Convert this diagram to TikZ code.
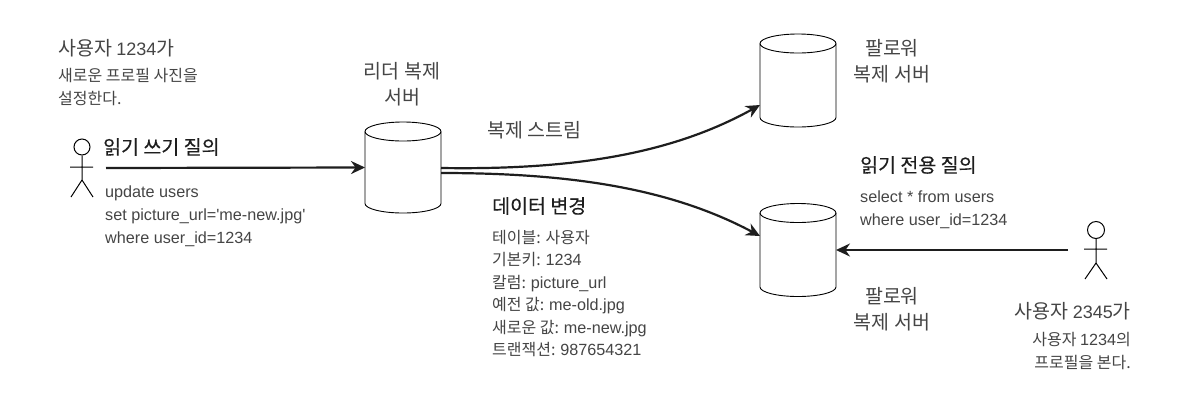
\documentclass[tikz,border=0pt]{standalone}
\usepackage{fontspec}
\setmainfont{Noto Sans CJK KR}
\newfontfamily\latf{Liberation Sans}
\newfontfamily\headf[FakeBold=0.35]{Noto Sans CJK KR}
\usetikzlibrary{arrows.meta}
\definecolor{ink}{HTML}{1E1E1E}
\definecolor{soft}{HTML}{454545}
\newcommand{\ltbig}[1]{{\latf\fontsize{18}{19}\selectfont #1}}
\newcommand{\ltsm}[1]{{\latf\fontsize{16.2}{22}\selectfont #1}}
\tikzset{
  x=1pt,y=-1pt,
  dbox/.style={rectangle,draw=none,minimum width=76pt,minimum height=74pt,inner sep=0pt,outer sep=0pt},
  dbline/.style={draw=black,line width=0.9pt},
  big/.style={font=\fontsize{19.5}{26}\selectfont,text=soft,inner sep=0pt,align=center},
  headl/.style={font=\headf\fontsize{19.5}{24}\selectfont,text=ink,inner sep=0pt,anchor=west},
  small/.style={font=\fontsize{16}{22.8}\selectfont,text=soft,inner sep=0pt,align=left,anchor=north west},
  flow/.style={line width=2.2pt,draw=ink,-{Stealth[length=14pt,width=13pt]}},
  stick/.style={line width=1pt,draw=black},
}
\newcommand{\dbshape}[1]{%
  \draw[dbline] (#1.north west) arc[start angle=180,end angle=-180,x radius=38pt,y radius=9.5pt];
  \draw[dbline] (#1.north west) -- (#1.south west) arc[start angle=180,end angle=360,x radius=38pt,y radius=9.5pt] -- (#1.north east);
}
\begin{document}
\begin{tikzpicture}
\useasboundingbox (0,0) rectangle (1202,400);
\fill[white] (0,0) rectangle (1202,400);
\node[dbox,minimum height=72pt] (leader) at (403,167.5) {};
\node[dbox] (fa) at (798,80.5) {};
\node[dbox] (fb) at (798,250) {};
\dbshape{leader}\dbshape{fa}\dbshape{fb}
% left person
\node[circle,draw=black,line width=1pt,minimum size=16pt,inner sep=0pt] (headl) at (82,147) {};
\coordinate (hipl) at (82,180);
\coordinate (arml) at (70,167);
\coordinate (armr) at (93,167);
\coordinate (footl) at (71,197);
\coordinate (footr) at (93,197);
\draw[stick] (headl) -- (hipl) (arml) -- (armr) (footl) -- (hipl) -- (footr);
% right person
\node[circle,draw=black,line width=1pt,minimum size=17pt,inner sep=0pt] (headr) at (1096,230) {};
\coordinate (hipr) at (1096,263);
\coordinate (arm2l) at (1084,249);
\coordinate (arm2r) at (1107,249);
\coordinate (foot2l) at (1085,279);
\coordinate (foot2r) at (1107,279);
\draw[stick] (headr) -- (hipr) (arm2l) -- (arm2r) (foot2l) -- (hipr) -- (foot2r);
% connectors
\coordinate (wstart) at (106,168);
\coordinate (rstart) at (1068,250);
\coordinate (s1) at (441,168);
\coordinate (s2) at (441,173);
\coordinate (t1) at (760,105);
\coordinate (t2) at (760,236);
\draw[flow] (wstart) -- (leader.west);
\draw[flow] (rstart) -- (fb.east);
\draw[flow] (s1) .. controls (570,170) and (670,155) .. (t1);
\draw[flow] (s2) .. controls (570,173) and (670,188) .. (t2);
% texts
\node[big,anchor=west] (u1) at (58,48) {사용자 \ltbig{1234}가};
\node[small] (u1d) at (58,68) {새로운 프로필 사진을\\설정한다.};
\node[headl] (q1) at (103,147) {읽기 쓰기 질의};
\node[small] (q1d) at (105,186) {\ltsm{update users}\\\ltsm{set picture\_url='me-new.jpg'}\\\ltsm{where user\_id=1234}};
\node[big] (lname) at (402,84) {리더 복제\\서버};
\node[big,anchor=west] (stream) at (487,130) {복제 스트림};
\node[headl] (chg) at (492,206) {데이터 변경};
\node[small,font=\fontsize{16}{22.4}\selectfont] (chgd) at (492,230) {테이블: 사용자\\기본키: \ltsm{1234}\\칼럼: \ltsm{picture\_url}\\예전 값: \ltsm{me-old.jpg}\\새로운 값: \ltsm{me-new.jpg}\\트랜잭션: \ltsm{987654321}};
\node[big] (fan) at (892,61) {팔로워\\복제 서버};
\node[headl] (q2) at (860,165) {읽기 전용 질의};
\node[small] (q2d) at (860,191) {\ltsm{select * from users}\\\ltsm{where user\_id=1234}};
\node[big] (fbn) at (892,309) {팔로워\\복제 서버};
\node[big,anchor=east] (u2) at (1131,311) {사용자 \ltbig{2345}가};
\node[small,align=right,anchor=north east] (u2d) at (1131,332) {사용자 \ltsm{1234}의\\프로필을 본다.};
\end{tikzpicture}
\end{document}
